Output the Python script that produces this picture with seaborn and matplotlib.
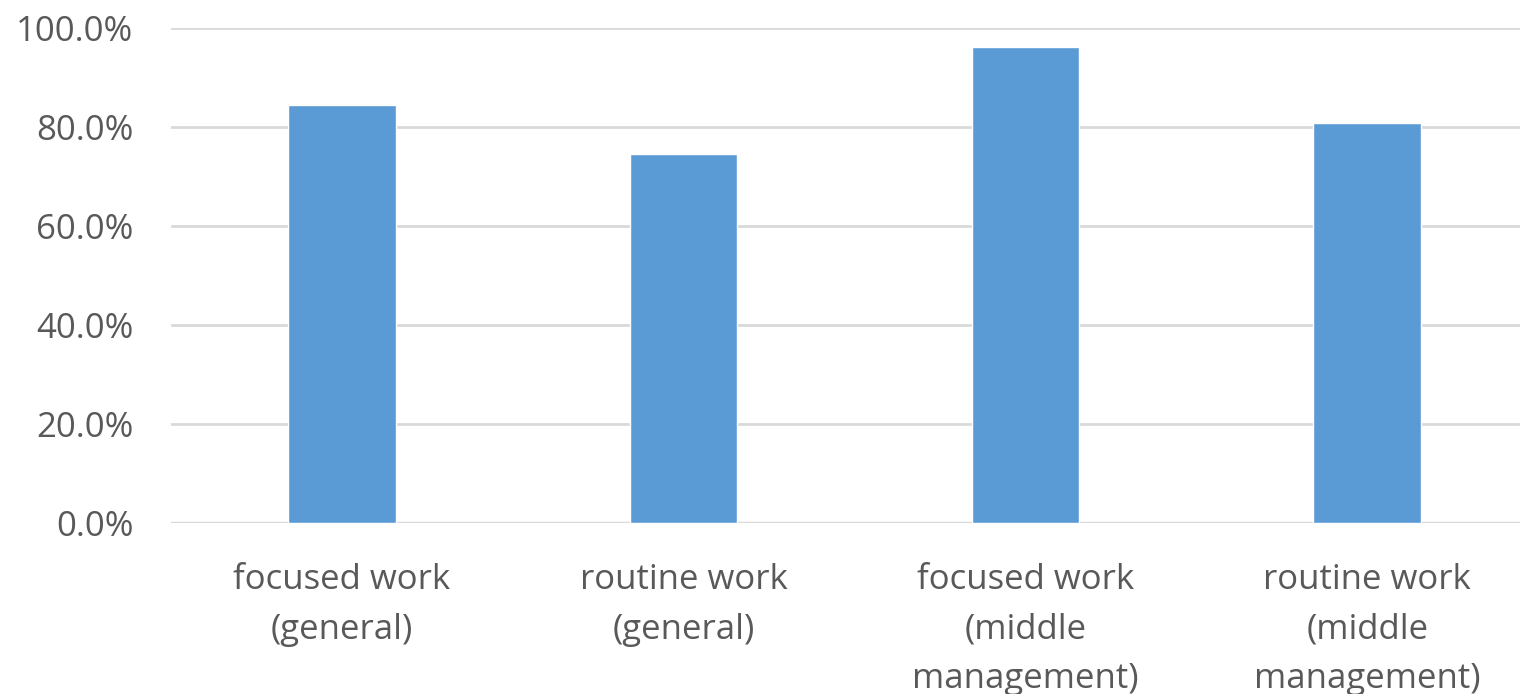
import numpy as np
import pandas as pd
from matplotlib import pyplot as plt
from matplotlib.ticker import PercentFormatter
import seaborn as sb

# shares per work type
categories = ['focused work\n(general)', 'routine work\n(general)',
              'focused work\n(middle\nmanagement)', 'routine work\n(middle\nmanagement)']
shares = [84.5, 74.5, 96.1, 80.9]

df = pd.DataFrame({'category': categories, 'share': shares})

sb.set_style('white')
plt.rcParams['font.family'] = ['Open Sans', 'DejaVu Sans']

fig = plt.figure(figsize=(15.2, 6.94), dpi=100)
ax = fig.add_axes([171 / 1520, 1 - 523 / 694, 1 - 171 / 1520, 495 / 694 * 1.0])

sb.barplot(data=df, x='category', y='share', ax=ax, color='#5b9bd5',
           width=0.315, saturation=1)

ax.set_ylim(0, 100)
ax.set_xlim(-0.5, 3.447)
ax.set_yticks(np.arange(0, 101, 20))
ax.yaxis.set_major_formatter(PercentFormatter(decimals=1))
ax.yaxis.grid(True, color='#d9d9d9', linewidth=2)
ax.set_axisbelow(True)
for s in ax.spines.values():
    s.set_visible(False)
ax.axhline(0, color='#d9d9d9', linewidth=2.5, zorder=0)
ax.set_xlabel('')
ax.set_ylabel('')
ax.tick_params(axis='y', length=0, pad=27, labelsize=25, labelcolor='#595959')
ax.tick_params(axis='x', length=0, pad=29, labelsize=25, labelcolor='#595959')
for lbl in ax.get_xticklabels():
    lbl.set_linespacing(1.6)

fig.savefig('out.png', dpi=100)
